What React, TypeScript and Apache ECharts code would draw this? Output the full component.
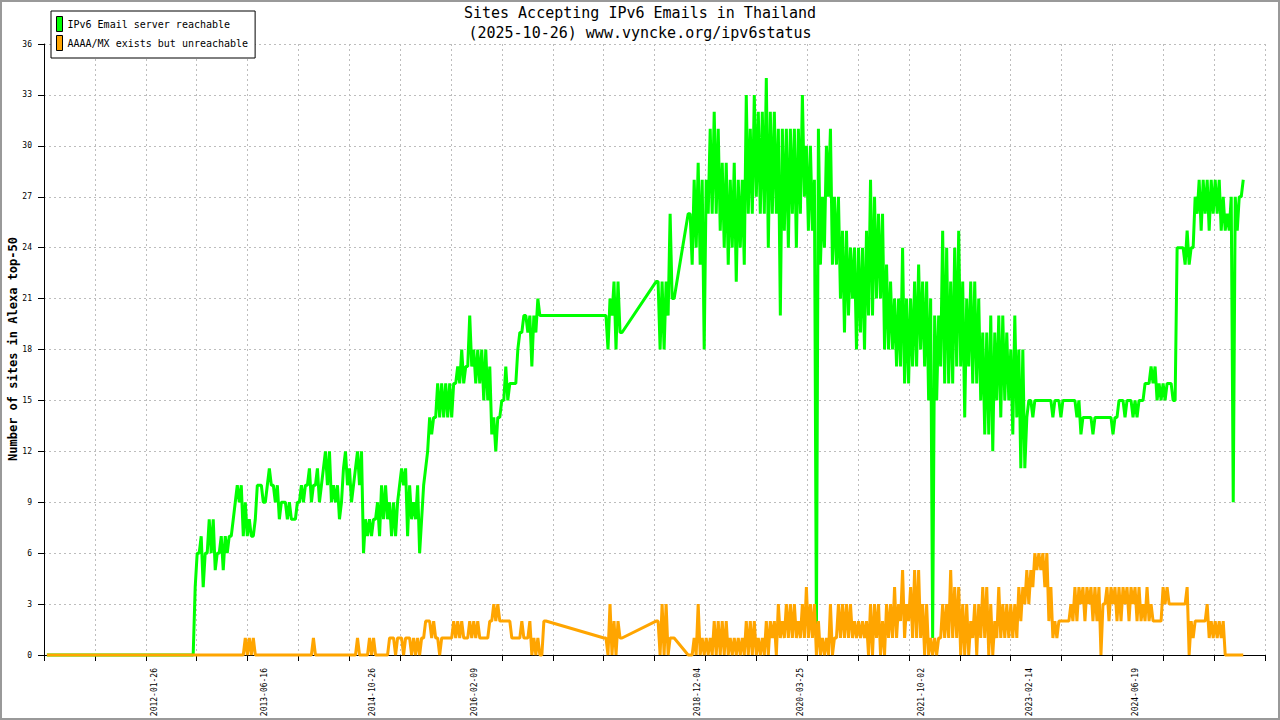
import React, { useEffect, useRef } from "react";
import * as echarts from "echarts";

// ---- Data ----
const TITLE = "Sites Accepting IPv6 Emails in Thailand\n(2025-10-26) www.vyncke.org/ipv6status";
const Y_NAME = "Number of sites in Alexa top-50";
const SERIES_NAMES = ["IPv6 Email server reachable", "AAAA/MX exists but unreachable"];

const AXIS_START = "2010-09-01";
const AXIS_END = "2026-02-05";
const FIRST_SAMPLE = "2010-09-19";
const SAMPLE_STEP_DAYS = 18.5; // each sample covers ~18.5 days: lowest and highest value seen in that period
const X_LABEL_DATES = [
  "2012-01-26", "2013-06-16", "2014-10-26", "2016-02-09", "2018-12-04",
  "2020-03-25", "2021-10-02", "2023-02-14", "2024-06-19",
];
const Y_MAX = 36;
const Y_STEP = 3;
const X_TICK_COUNT = 24;

const Z = (n: number) => new Array(n).fill(0);
const N = (n: number) => new Array(n).fill(null);

// IPv6 Email server reachable: low / high per sample (null = no data)
const reachableLow: (number | null)[] = [
  ...Z(37),
  4, 6, 4, 6, 6, 5, 6, 5, 6, 7, 9,
  9, 7, 7, 7, 8, 10, 9, 10, 10, 9, 8, 9,
  8, 8, 8, 9, 9, 10, 9, 10, 9, 11, 10, 9,
  9, 8, 11, 10, 9, 11, 10, 6, 7, 7, 8, 7,
  8, 8, 7, 7, 10, 10, 7, 8, 8, 6, 10, 12,
  13, 14, 14, 14, 14, 14, 16, 16, 16, 17, 17, 16,
  16, 15, 15, 13, 12, 14, 15, 15, 16, 16, 19, 20,
  19, 17, 19, 20, 20,
  ...N(14),
  20, 18, 20, 18, 19,
  ...N(8),
  22, 18, 18, 20, 21,
  ...N(3),
  26, 23, 24, 23, 18, 26, 26, 26, 25, 24, 23, 24,
  22, 24, 23, 26, 26, 27, 26, 26, 24, 26, 26, 20,
  25, 24, 26, 24, 26, 27, 25, 25, 1, 23, 24, 27,
  23, 23, 21, 19, 20, 21, 18, 19, 18, 20, 20, 21,
  21, 18, 18, 18, 17, 17, 16, 16, 17, 17, 18, 17,
  15, 1, 15, 17, 16, 16, 16, 17, 17, 14, 17, 16,
  16, 15, 13, 13, 12, 15, 14, 15, 15, 13, 14, 11,
  11, 15, 14, 15, 15, 15, 15, 14, 15, 14, 15, 15,
  15, 14, 13, 14, 14, 13, 14, 14, 14, 14, 13, 14,
  15, 14, 15, 14, 14, 15, 16, 16, 16, 15, 15, 15,
  16, 15, 24, 24, 23, 23, 24, 26, 25, 26, 25, 26,
  26, 25, 25, 25, 9, 25, 27,
];
const reachableHigh: (number | null)[] = [
  ...Z(37),
  6, 7, 6, 8, 8, 6, 7, 7, 7, 8, 10,
  10, 9, 8, 7, 10, 10, 9, 11, 10, 10, 9, 9,
  9, 8, 9, 10, 10, 11, 10, 11, 10, 12, 12, 10,
  10, 9, 12, 11, 10, 12, 12, 8, 8, 8, 9, 10,
  10, 9, 9, 9, 11, 11, 10, 9, 10, 8, 11, 14,
  14, 16, 16, 16, 16, 16, 17, 18, 17, 20, 18, 18,
  18, 18, 17, 14, 14, 15, 17, 16, 16, 18, 19, 20,
  20, 20, 21, 20, 20,
  ...N(14),
  20, 21, 22, 22, 19,
  ...N(8),
  22, 22, 22, 26, 21,
  ...N(3),
  26, 28, 29, 28, 28, 31, 32, 31, 29, 29, 28, 29,
  28, 28, 33, 31, 33, 32, 32, 34, 32, 32, 31, 31,
  31, 31, 31, 31, 33, 30, 30, 28, 31, 27, 30, 31,
  27, 27, 25, 25, 24, 24, 24, 24, 25, 28, 27, 26,
  26, 23, 22, 21, 21, 24, 21, 21, 22, 23, 22, 22,
  21, 20, 20, 25, 24, 22, 24, 25, 22, 21, 22, 22,
  21, 19, 19, 20, 19, 20, 20, 19, 18, 20, 18, 18,
  14, 15, 15, 15, 15, 15, 15, 15, 15, 15, 15, 15,
  15, 15, 14, 14, 14, 14, 14, 14, 14, 14, 14, 15,
  15, 15, 15, 15, 15, 15, 16, 17, 17, 16, 16, 16,
  16, 15, 24, 24, 25, 24, 27, 28, 28, 28, 28, 28,
  28, 27, 26, 27, 27, 27, 28,
];

// AAAA/MX exists but unreachable: low / high per sample
const unreachableLow: (number | null)[] = [
  ...Z(49),
  0, 0, 0, 0,
  ...Z(13),
  0,
  ...Z(10),
  0, 0, 0, 0, 0, 0, 0, 0, 0, 1, 0, 1,
  0, 1, 0, 0, 0, 1, 2, 1, 1, 0, 1, 1,
  1, 1, 1, 1, 1, 1, 1, 1, 1, 1, 2, 2,
  2, 2, 2, 1, 1, 1, 1, 1, 0, 0, 0, 2,
  ...N(14),
  1, 0, 0, 0, 1,
  ...N(8),
  2, 0, 0, 0, 1,
  ...N(3),
  0, 0, 0, 0, 0, 0, 0, 0, 0, 0, 0, 0,
  0, 0, 0, 0, 0, 0, 0, 0, 0, 1, 0, 1,
  1, 1, 1, 1, 1, 1, 1, 1, 0, 0, 0, 0,
  0, 1, 1, 1, 1, 1, 1, 1, 1, 0, 0, 1,
  0, 0, 1, 1, 1, 2, 1, 2, 1, 1, 1, 0,
  0, 0, 0, 1, 1, 1, 1, 1, 0, 0, 0, 1,
  0, 1, 1, 0, 0, 1, 1, 1, 1, 1, 1, 2,
  3, 3, 4, 5, 5, 4, 2, 1, 1, 2, 2, 2,
  2, 2, 3, 2, 3, 2, 2, 0, 3, 2, 3, 2,
  2, 3, 2, 3, 2, 2, 2, 2, 2, 2, 2, 3,
  3, 3, 3, 3, 3, 0, 1, 2, 2, 2, 1, 1,
  1, 1, 0, 0, 0, 0, 0,
];
const unreachableHigh: (number | null)[] = [
  ...Z(49),
  1, 1, 1, 0,
  ...Z(13),
  1,
  ...Z(10),
  1, 0, 0, 1, 1, 0, 0, 0, 1, 1, 1, 1,
  1, 1, 1, 1, 1, 2, 2, 2, 1, 1, 1, 1,
  2, 2, 2, 1, 2, 2, 2, 1, 1, 2, 3, 3,
  2, 2, 2, 1, 1, 2, 1, 2, 1, 1, 0, 2,
  ...N(14),
  1, 3, 2, 2, 1,
  ...N(8),
  2, 3, 3, 1, 1,
  ...N(3),
  0, 1, 3, 1, 1, 1, 2, 2, 2, 2, 1, 1,
  1, 1, 2, 2, 2, 1, 1, 2, 2, 2, 3, 2,
  3, 3, 3, 2, 3, 4, 3, 3, 2, 1, 1, 3,
  1, 3, 3, 3, 3, 2, 2, 2, 2, 3, 3, 3,
  2, 3, 3, 4, 3, 5, 3, 4, 5, 5, 3, 3,
  1, 1, 1, 3, 3, 5, 4, 4, 3, 3, 2, 3,
  3, 4, 4, 3, 2, 4, 3, 3, 3, 3, 4, 4,
  5, 5, 6, 6, 6, 6, 4, 2, 2, 2, 2, 3,
  4, 4, 4, 4, 4, 4, 4, 3, 4, 4, 4, 4,
  4, 4, 4, 4, 4, 3, 4, 3, 2, 2, 4, 4,
  3, 3, 3, 3, 4, 2, 2, 2, 2, 3, 2, 2,
  2, 2, 0, 0, 0, 0, 0,
];

const GREEN = "#00ff00";
const ORANGE = "#ffa500";
const MONO = "'DejaVu Sans Mono', 'Liberation Mono', monospace";

// ---- helpers ----
const DAY = 86400000;
const T0 = Date.parse(AXIS_START + "T00:00:00Z");
const dayOffset = (d: string) => (Date.parse(d + "T00:00:00Z") - T0) / DAY;
const fmtDate = (v: number) => new Date(T0 + Math.round(v) * DAY).toISOString().slice(0, 10);
const sampleX = (i: number) => dayOffset(FIRST_SAMPLE) + i * SAMPLE_STEP_DAYS;

// each sample period drawn as a stroke from its low to its high value
function buildData(low: (number | null)[], high: (number | null)[]) {
  const out: any[] = [];
  const q = SAMPLE_STEP_DAYS / 4;
  low.forEach((lo, i) => {
    const hi = high[i];
    if (lo === null || hi === null || hi === undefined) {
      out.push([sampleX(i), "-"]);
      return;
    }
    out.push([sampleX(i) - q, lo]);
    out.push([sampleX(i) + q, hi]);
  });
  return out;
}

export default function App() {
  const ref = useRef<HTMLDivElement>(null);
  useEffect(() => {
    document.body.style.margin = "0";
    const chart = echarts.init(ref.current!, undefined, { renderer: "svg" });
    const xMax = dayOffset(AXIS_END);
    const lineSeries = (name: string, color: string, data: any[]) => ({
      name,
      type: "line",
      data,
      showSymbol: false,
      symbol: "none",
      connectNulls: true,
      clip: false,
      color,
      itemStyle: { color },
      lineStyle: { color, width: 3, join: "bevel", cap: "butt" },
      emphasis: { disabled: true },
      silent: true,
      xAxisIndex: 0,
    });
    chart.setOption({
      animation: false,
      backgroundColor: "#ffffff",
      title: {
        text: TITLE,
        left: "center",
        top: 3,
        padding: 0,
        textStyle: { fontFamily: MONO, fontSize: 15, fontWeight: "normal", color: "#000", lineHeight: 20 },
      },
      legend: {
        data: SERIES_NAMES,
        orient: "vertical",
        left: 51,
        top: 11,
        padding: [5, 7, 7, 5],
        itemGap: 3,
        itemWidth: 6,
        itemHeight: 15,
        icon: "rect",
        borderColor: "#000",
        borderWidth: 1,
        backgroundColor: "#fff",
        selectedMode: false,
        z: 50,
        itemStyle: { borderColor: "#000", borderWidth: 1 },
        textStyle: { fontFamily: MONO, fontSize: 10, color: "#000" },
      },
      grid: { left: 44, right: 15, top: 44, bottom: 65, containLabel: false, outerBoundsMode: "none" },
      xAxis: [
        {
          type: "value",
          position: "bottom",
          min: 0,
          max: xMax,
          interval: xMax / X_TICK_COUNT,
          axisLine: { show: true, onZero: false, lineStyle: { color: "#000", width: 1 } },
          axisTick: { show: true, length: 6, lineStyle: { color: "#000" } },
          axisLabel: { show: false },
          splitLine: { show: true, lineStyle: { color: "#bdbdbd", type: [2, 3], width: 1 } },
        },
        {
          type: "value",
          position: "bottom",
          min: 0,
          max: xMax,
          axisLine: { show: false },
          axisTick: { show: false },
          splitLine: { show: false },
          axisLabel: {
            show: true,
            customValues: X_LABEL_DATES.map(dayOffset),
            formatter: (v: number) => fmtDate(v),
            rotate: 90,
            margin: 13,
            fontFamily: MONO,
            fontSize: 8,
            color: "#000",
          },
        },
      ],
      yAxis: {
        type: "value",
        min: 0,
        max: Y_MAX,
        interval: Y_STEP,
        axisLine: { show: true, onZero: false, lineStyle: { color: "#000", width: 1 } },
        axisTick: { show: true, length: 6, lineStyle: { color: "#000" } },
        axisLabel: { fontFamily: MONO, fontSize: 8, color: "#000", margin: 12 },
        splitLine: { show: true, lineStyle: { color: "#bdbdbd", type: [2, 3], width: 1 } },
      },
      graphic: [
        {
          type: "text",
          x: 13,
          y: 349,
          rotation: Math.PI / 2,
          silent: true,
          style: {
            text: Y_NAME,
            fontFamily: MONO,
            fontSize: 12,
            fontWeight: "bold",
            fill: "#000",
            align: "center",
            verticalAlign: "middle",
          },
        },
        {
          type: "rect",
          shape: { x: 1, y: 1, width: 1278, height: 718 },
          style: { fill: "none", stroke: "#999999", lineWidth: 2 },
          silent: true,
          z: 100,
        },
      ],
      series: [
        lineSeries(SERIES_NAMES[0], GREEN, buildData(reachableLow, reachableHigh)),
        lineSeries(SERIES_NAMES[1], ORANGE, buildData(unreachableLow, unreachableHigh)),
      ],
    });
    return () => chart.dispose();
  }, []);
  return <div ref={ref} style={{ position: "fixed", left: 0, top: 0, width: 1280, height: 720 }} />;
}
